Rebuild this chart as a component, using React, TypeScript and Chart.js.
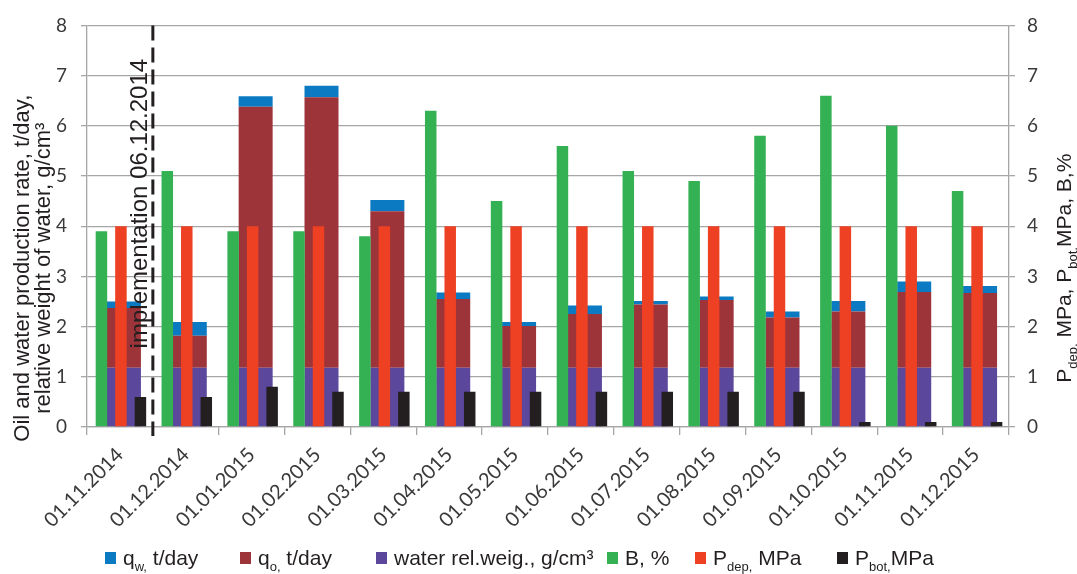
import React, { useEffect, useRef } from "react";
import { Chart, registerables } from "chart.js";

Chart.register(...registerables);

// ---------- data ----------
const categories = [
  "01.11.2014", "01.12.2014", "01.01.2015", "01.02.2015", "01.03.2015", "01.04.2015", "01.05.2015",
  "01.06.2015", "01.07.2015", "01.08.2015", "01.09.2015", "01.10.2015", "01.11.2015", "01.12.2015",
];
// left axis (stacked): water relative weight + oil rate + water rate
const waterRelWeight = [1.18, 1.18, 1.18, 1.18, 1.18, 1.18, 1.18, 1.18, 1.18, 1.18, 1.18, 1.18, 1.18, 1.18];
const qOil = [1.19, 0.64, 5.2, 5.39, 3.12, 1.37, 0.83, 1.07, 1.26, 1.35, 1.0, 1.12, 1.51, 1.49];
const qWater = [0.13, 0.27, 0.21, 0.23, 0.22, 0.13, 0.08, 0.17, 0.07, 0.07, 0.12, 0.21, 0.21, 0.14];
// right axis (clustered)
const bPercent = [3.9, 5.1, 3.9, 3.9, 3.8, 6.3, 4.5, 5.6, 5.1, 4.9, 5.8, 6.6, 6.0, 4.7];
const pDep = [4, 4, 4, 4, 4, 4, 4, 4, 4, 4, 4, 4, 4, 4];
const pBot = [0.6, 0.6, 0.8, 0.7, 0.7, 0.7, 0.7, 0.7, 0.7, 0.7, 0.7, 0.1, 0.1, 0.1];
const axisMin = 0;
const axisMax = 8;
const axisStep = 1;
const implementationLabel = "implementation 06.12.2014";
const implementationAfterIndex = 0;

// ---------- style ----------
const C_BLUE = "#0B7AC2";
const C_BROWN = "#9D343A";
const C_PURPLE = "#5B479C";
const C_GREEN = "#33B153";
const C_RED = "#EE4023";
const C_BLACK = "#231F20";
const C_GRID = "#A6A6A6";
const C_TICK = "#3A3A3A";
const C_TEXT = "#231F20";
const TEXT_FONT = "'Liberation Sans', Arial, sans-serif";
const TICK_FONT = "Lato, 'Liberation Sans', sans-serif";

type Seg = { t: string; sub?: boolean };

function segWidth(ctx: CanvasRenderingContext2D, segs: Seg[], size: number) {
  let w = 0;
  for (const s of segs) {
    ctx.font = `${s.sub ? Math.round(size * 0.62) : size}px ${TEXT_FONT}`;
    w += ctx.measureText(s.t).width;
  }
  return w;
}

function drawSegs(ctx: CanvasRenderingContext2D, segs: Seg[], size: number, x: number, y: number) {
  let cx = x;
  ctx.textAlign = "left";
  ctx.textBaseline = "alphabetic";
  for (const s of segs) {
    const fs = s.sub ? Math.round(size * 0.62) : size;
    ctx.font = `${fs}px ${TEXT_FONT}`;
    ctx.fillText(s.t, cx, s.sub ? y + size * 0.3 : y);
    cx += ctx.measureText(s.t).width;
  }
}

const leftTitle1: Seg[] = [{ t: "Oil and water production rate, t/day," }];
const leftTitle2: Seg[] = [{ t: "relative weight of water, g/cm\u00B3" }];
const rightTitle: Seg[] = [
  { t: "P" }, { t: "dep,", sub: true }, { t: " MPa, P" }, { t: "bot,", sub: true }, { t: "MPa, B,%" },
];

const legendItems: { color: string; segs: Seg[]; x: number }[] = [
  { color: C_BLUE, x: 105, segs: [{ t: "q" }, { t: "w,", sub: true }, { t: " t/day" }] },
  { color: C_BROWN, x: 240, segs: [{ t: "q" }, { t: "o,", sub: true }, { t: " t/day" }] },
  { color: C_PURPLE, x: 376, segs: [{ t: "water rel.weig., g/cm\u00B3" }] },
  { color: C_GREEN, x: 607, segs: [{ t: "B, %" }] },
  { color: C_RED, x: 695, segs: [{ t: "P" }, { t: "dep,", sub: true }, { t: " MPa" }] },
  { color: C_BLACK, x: 837, segs: [{ t: "P" }, { t: "bot,", sub: true }, { t: "MPa" }] },
];

const decorPlugin = {
  id: "decor",
  afterDatasetsDraw(chart: any) {
    const { ctx, chartArea, scales } = chart;
    const x = scales.x;
    const y = scales.y;
    const xl = (x.getPixelForValue(implementationAfterIndex) + x.getPixelForValue(implementationAfterIndex + 1)) / 2;
    ctx.save();
    ctx.strokeStyle = C_BLACK;
    ctx.lineWidth = 3;
    ctx.setLineDash([15, 7]);
    ctx.beginPath();
    ctx.moveTo(xl, chartArea.top);
    ctx.lineTo(xl, chartArea.bottom + 9);
    ctx.stroke();
    ctx.setLineDash([]);
    ctx.translate(xl - 6, y.getPixelForValue(4.45));
    ctx.rotate(-Math.PI / 2);
    ctx.fillStyle = C_TEXT;
    ctx.font = `24px ${TEXT_FONT}`;
    ctx.textAlign = "center";
    ctx.textBaseline = "alphabetic";
    ctx.fillText(implementationLabel, 0, 0);
    ctx.restore();
  },
  afterDraw(chart: any) {
    const { ctx, chartArea } = chart;
    const cy = (chartArea.top + chartArea.bottom) / 2 + 42;
    ctx.save();
    ctx.fillStyle = C_TEXT;
    // left title
    const s1 = 22;
    ctx.save();
    ctx.translate(29, cy);
    ctx.rotate(-Math.PI / 2);
    drawSegs(ctx, leftTitle1, s1, -segWidth(ctx, leftTitle1, s1) / 2, 0);
    ctx.restore();
    ctx.save();
    ctx.translate(50, cy);
    ctx.rotate(-Math.PI / 2);
    drawSegs(ctx, leftTitle2, s1, -segWidth(ctx, leftTitle2, s1) / 2, 0);
    ctx.restore();
    // right title
    const s2 = 21;
    ctx.save();
    ctx.translate(1071, cy);
    ctx.rotate(-Math.PI / 2);
    drawSegs(ctx, rightTitle, s2, -segWidth(ctx, rightTitle, s2) / 2, 0);
    ctx.restore();
    // legend
    const ls = 21;
    for (const it of legendItems) {
      ctx.fillStyle = it.color;
      ctx.fillRect(it.x, 552, 11, 12);
      ctx.fillStyle = C_TEXT;
      drawSegs(ctx, it.segs, ls, it.x + 18, 565);
    }
    ctx.restore();
  },
};

export default function App() {
  const ref = useRef<HTMLCanvasElement | null>(null);
  useEffect(() => {
    document.body.style.margin = "0";
    const canvas = ref.current;
    if (!canvas) return;
    // Two group slots: "L" (green) and "R" (everything else); each dataset's
    // category/bar percentage places it inside the category as in the original.
    const common = { xAxisID: "x", borderWidth: 0 };
    const chart = new Chart(canvas, {
      type: "bar",
      data: {
        labels: categories,
        datasets: [
          { ...common, yAxisID: "y2", stack: "L", categoryPercentage: 1.123, barPercentage: 0.311, label: "B, %", data: bPercent, backgroundColor: C_GREEN },
          { ...common, yAxisID: "y2", stack: "R", categoryPercentage: 0.0607, barPercentage: 5.75, label: "P dep, MPa", data: pDep, backgroundColor: C_RED },
          { ...common, yAxisID: "y2", stack: "R", categoryPercentage: 1.245, barPercentage: 0.28, label: "P bot, MPa", data: pBot, backgroundColor: C_BLACK },
          { ...common, yAxisID: "y", stack: "R", categoryPercentage: 0.243, barPercentage: 4.25, label: "water rel.weig., g/cm3", data: waterRelWeight, backgroundColor: C_PURPLE },
          { ...common, yAxisID: "y", stack: "R", categoryPercentage: 0.243, barPercentage: 4.25, label: "qo, t/day", data: qOil, backgroundColor: C_BROWN },
          { ...common, yAxisID: "y", stack: "R", categoryPercentage: 0.243, barPercentage: 4.25, label: "qw, t/day", data: qWater, backgroundColor: C_BLUE },
        ] as any,
      },
      options: {
        responsive: false,
        animation: false,
        devicePixelRatio: 1,
        layout: { padding: { top: 16, left: 0, right: 0, bottom: 0 } },
        plugins: { legend: { display: false }, tooltip: { enabled: false } },
        scales: {
          x: {
            type: "category",
            offset: true,
            grid: { offset: true, drawOnChartArea: false, color: C_GRID, lineWidth: 1.3, tickLength: 8 },
            border: { color: C_GRID, width: 1.3 },
            ticks: {
              autoSkip: false,
              minRotation: 45,
              maxRotation: 45,
              padding: 8,
              color: C_TICK,
              font: { family: TICK_FONT, size: 20 },
            },
            afterFit: (s: any) => { s.height = 147; },
          },
          y: {
            position: "left",
            stacked: true,
            min: axisMin,
            max: axisMax,
            ticks: { stepSize: axisStep, padding: 14, color: C_TICK, font: { family: TICK_FONT, size: 19 } },
            grid: { color: C_GRID, lineWidth: 1.3, tickLength: 6 },
            border: { color: C_GRID, width: 1.3 },
            afterFit: (s: any) => { s.width = 87; },
          },
          y2: {
            position: "right",
            stacked: false,
            min: axisMin,
            max: axisMax,
            ticks: { stepSize: axisStep, padding: 12, color: C_TICK, font: { family: TICK_FONT, size: 19 } },
            grid: { drawOnChartArea: false, color: C_GRID, lineWidth: 1.3, tickLength: 6 },
            border: { color: C_GRID, width: 1.3 },
            afterFit: (s: any) => { s.width = 68; },
          },
        },
      } as any,
      plugins: [decorPlugin],
    });
    return () => chart.destroy();
  }, []);
  return (
    <div style={{ width: 1077, height: 574, background: "#fff" }}>
      <canvas ref={ref} width={1077} height={574} style={{ display: "block" }} />
    </div>
  );
}
